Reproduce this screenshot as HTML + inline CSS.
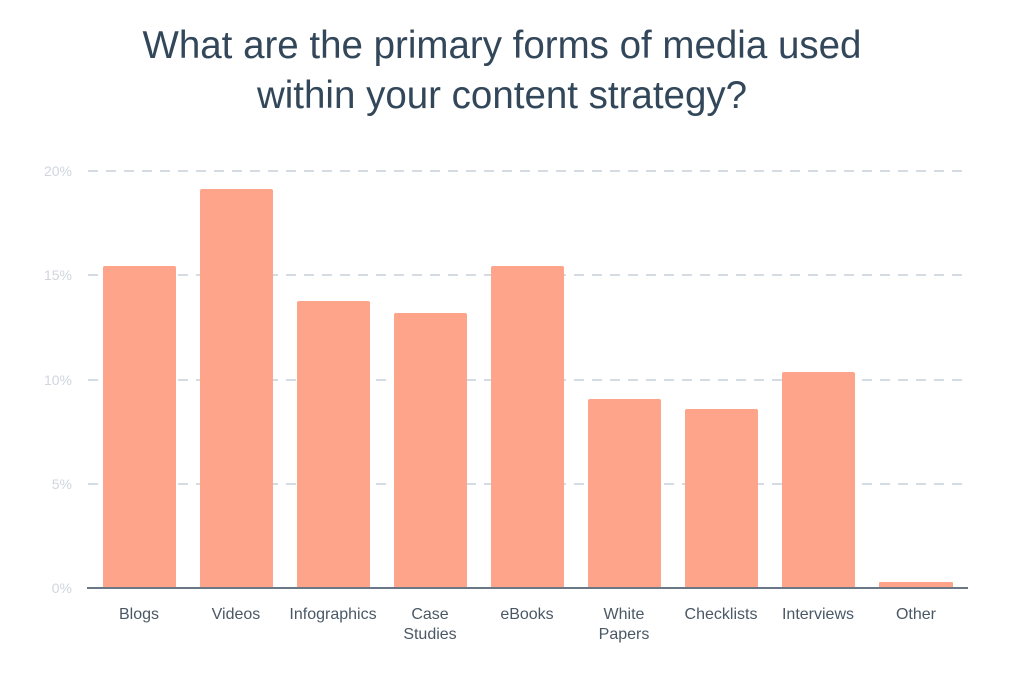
<!DOCTYPE html>
<html><head><style>
body{margin:0;background:#fff;width:1024px;height:671px;overflow:hidden;font-family:"Liberation Sans",sans-serif}
</style></head><body>
<svg width="1024" height="671" xmlns="http://www.w3.org/2000/svg">
<g font-family="Liberation Sans, sans-serif" fill="#33475b" font-size="38.5" text-anchor="middle">
<text x="502" y="58">What are the primary forms of media used</text>
<text x="502" y="108">within your content strategy?</text>
</g>
<g stroke="#d5dbe2" stroke-width="2" stroke-dasharray="10,8">
<line x1="88" y1="171" x2="970" y2="171"/>
<line x1="88" y1="275" x2="970" y2="275"/>
<line x1="88" y1="380" x2="970" y2="380"/>
<line x1="88" y1="484" x2="970" y2="484"/>
</g>
<g fill="#d0d6de" font-size="14" text-anchor="end">
<text x="72" y="176">20%</text><text x="72" y="280">15%</text><text x="72" y="385">10%</text><text x="72" y="489">5%</text><text x="72" y="593">0%</text>
</g>
<g fill="#fea48a">
<rect x="103" y="266" width="73" height="322" rx="2"/>
<rect x="200" y="189" width="73" height="399" rx="2"/>
<rect x="297" y="301" width="73" height="287" rx="2"/>
<rect x="394" y="313" width="73" height="275" rx="2"/>
<rect x="491" y="266" width="73" height="322" rx="2"/>
<rect x="588" y="399" width="73" height="189" rx="2"/>
<rect x="685" y="409" width="73" height="179" rx="2"/>
<rect x="782" y="372" width="73" height="216" rx="2"/>
<rect x="879" y="582" width="74" height="6" rx="1"/>
</g>
<line x1="87" y1="588" x2="968" y2="588" stroke="#6b7785" stroke-width="2"/>
<g fill="#4a5866" font-size="16" text-anchor="middle">
<text x="139" y="619">Blogs</text>
<text x="236" y="619">Videos</text>
<text x="333" y="619">Infographics</text>
<text x="430" y="619">Case</text><text x="430" y="639">Studies</text>
<text x="527" y="619">eBooks</text>
<text x="624" y="619">White</text><text x="624" y="639">Papers</text>
<text x="721" y="619">Checklists</text>
<text x="818" y="619">Interviews</text>
<text x="916" y="619">Other</text>
</g>
</svg>
</body></html>
